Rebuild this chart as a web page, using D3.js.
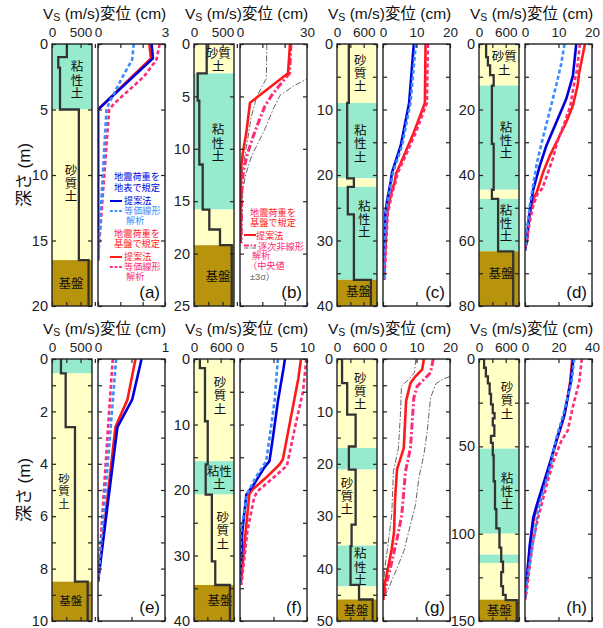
<!DOCTYPE html>
<html>
<head>
<meta charset="utf-8">
<script src="https://cdn.jsdelivr.net/npm/d3@7"></script>
<style>
  body { margin: 0; background: #fff; }
  svg text { font-family: "Liberation Sans", "Noto Sans CJK JP", Arial, sans-serif; }
</style>
</head>
<body>
<svg id="chart" width="603" height="628"></svg>
<script>
// ============================================================
//  Data
// ============================================================

const panelNames = ['(a)', '(b)', '(c)', '(d)', '(e)', '(f)', '(g)', '(h)'];
const depthMax   = [20, 25, 40, 80, 10, 40, 50, 150];
const depthMinor = [5, 5, 5, 10, 1, 5, 5, 25];
const depthMajor = [5, 5, 10, 20, 2, 10, 10, 50];
const vsMax      = [700, 700, 900, 900, 700, 900, 900, 900];
const vsMinor    = [250, 250, 300, 300, 250, 300, 300, 300];
const vsLabels   = [[0, 500], [0, 500], [0, 600], [0, 600], [0, 500], [0, 600], [0, 600], [0, 600]];
const dispMax    = [3, 30, 20, 20, 1, 10, 20, 40];
const dispMinor  = [1, 10, 10, 10, 0.5, 5, 10, 20];
const dispLabels = [[0, 3], [0, 30], [0, 10, 20], [0, 10, 20], [0, 1], [0, 5, 10], [0, 10, 20], [0, 20, 40]];

// soil layers: [top, bottom, kind]  s = 砂質土, c = 粘性土, b = 基盤
const layersA = [[0, 5, 'c'], [5, 16.5, 's'], [16.5, 20, 'b']];
const layersB = [[0, 2.8, 's'], [2.8, 15.8, 'c'], [15.8, 19.2, 's'], [19.2, 25, 'b']];
const layersC = [[0, 9, 's'], [9, 20.5, 'c'], [20.5, 21.8, 's'], [21.8, 36, 'c'], [36, 40, 'b']];
const layersD = [[0, 12.7, 's'], [12.7, 44.5, 'c'], [44.5, 47.3, 's'], [47.3, 63.3, 'c'], [63.3, 80, 'b']];
const layersE = [[0, 0.55, 'c'], [0.55, 8.5, 's'], [8.5, 10, 'b']];
const layersF = [[0, 15.6, 's'], [15.6, 20.7, 'c'], [20.7, 34.5, 's'], [34.5, 40, 'b']];
const layersG = [[0, 17, 's'], [17, 21.1, 'c'], [21.1, 35.6, 's'], [35.6, 43.4, 'c'], [43.4, 45.9, 's'], [45.9, 50, 'b']];
const layersH = [[0, 51.3, 's'], [51.3, 100, 'c'], [100, 112, 's'], [112, 116.8, 'c'], [116.8, 137.8, 's'], [137.8, 150, 'b']];

// Vs profiles: [depth where the value starts, Vs m/s]
const vsA = [[0, 260], [1, 110], [1.8, 140], [5, 470], [16.5, 640], [20, 640]];
const vsB = [[0, 222], [2.8, 65], [5.4, 93], [11.5, 152], [15.8, 268], [17.7, 455], [19.2, 660], [25, 660]];
const vsC = [[0, 266], [9, 229], [20.5, 380], [21.8, 243], [26, 380], [36, 763], [40, 763]];
const vsD = [[0, 160], [4, 200], [6.5, 250], [9.5, 330], [12.7, 290], [30.5, 330], [44.5, 290], [47.3, 430], [63.3, 770], [80, 770]];
const vsE = [[0, 157], [0.55, 239], [2.6, 402], [8.5, 624], [10, 624]];
const vsF = [[0, 132], [1.4, 247], [9.5, 309], [16.1, 263], [20.7, 402], [30.9, 478], [34.5, 808], [40, 808]];
const vsG = [[0, 114], [4.6, 229], [10.6, 419], [16.7, 267], [21.1, 419], [31.6, 328], [35.7, 305], [43.1, 496], [45.9, 801], [50, 801]];
const vsH = [[0, 115], [5, 155], [10, 200], [14, 240], [20, 270], [26, 310], [31, 350], [34, 310], [38, 345], [44, 270], [48, 310],
             [55, 330], [70, 360], [86, 390], [97, 460], [108, 500], [116, 540], [122, 500], [130, 540], [135, 600], [138, 850], [150, 850]];

// displacement profiles [depth m, cm]
// bp/rp: 提案法 (blue: 地表で規定, red: 基盤で規定), be/re: 等価線形解析, rm: 逐次非線形解析 中央値, lo/hi: ±3σ
const dispA = {
  rp: [[0, 2.3], [1.1, 2.37], [5, 0], [16.5, 0]],
  bp: [[0, 2.4], [1.1, 2.46], [5, 0], [16.5, 0]],
  re: [[0, 2.76], [1.2, 2.62], [2.5, 2.05], [3.5, 1.4], [4.5, 0.75], [5, 0.5], [16.5, 0]],
  be: [[0, 1.6], [1.2, 1.53], [2.5, 1.1], [3.5, 0.8], [4.5, 0.5], [5, 0.38], [16.5, 0]]
};
const dispB = {
  lo: [[0, 12], [3.3, 11.8], [5, 7.5], [7, 5], [9, 3.5], [10.5, 2.3], [12.5, 0.8], [19, 0.3]],
  hi: [[0, 34], [3, 33], [4, 24], [4.9, 17.9], [6.2, 14.9], [8.1, 11.2], [9.7, 7.5], [10.7, 5.2], [12.5, 2.5], [14, 1.2], [19, 0.6]],
  rm: [[0, 22.8], [2.8, 22.2], [4, 17.5], [4.9, 14.2], [5.9, 11.2], [7.5, 8.2], [8.75, 6], [10.7, 3], [12.2, 1.5], [14, 0.8], [19, 0.5]],
  rp: [[0, 22.4], [2.8, 21.5], [5.6, 4.5], [8.5, 2.8], [10.5, 1.2], [12, 0.4], [19, 0.3]]
};
const dispC = {
  rp: [[0, 12.7], [9, 12.5], [13.5, 9.2], [17, 6.3], [19.8, 3.9], [21, 3.5], [23, 2.3], [26, 1.2], [36, 0.3]],
  bp: [[0, 9.2], [9, 7.8], [15.5, 5.3], [19.6, 2.7], [21, 2.3], [24, 1.2], [26, 0.7], [36, 0.2]],
  re: [[0, 13.4], [9, 13.1], [13.5, 9.8], [17, 6.8], [19.8, 4.3], [21, 3.8], [23, 2.6], [26, 1.4], [36, 0.4]],
  be: [[0, 9.8], [9, 8.2], [15.5, 5.7], [19.6, 3.0], [21, 2.5], [24, 1.4], [26, 0.8], [36, 0.3]]
};
const dispD = {
  rp: [[0, 17.9], [2.5, 17.4], [8.6, 16.2], [12.7, 15.7], [18.8, 14.3], [23.9, 12.3], [30, 9.4], [34.1, 7.4], [39.2, 5.4], [45.3, 3.5], [47.3, 2.5], [52.4, 1.3], [59.7, 0.6], [63, 0]],
  bp: [[0, 15.3], [9.7, 14.3], [16.8, 12.3], [25, 8.9], [31, 6.4], [37.2, 4.4], [44.3, 2.5], [47.3, 2.0], [52.4, 1.3], [60, 0.5], [63, 0]],
  re: [[0, 16.4], [8, 15.5], [13, 14.5], [19, 13.5], [24, 11.8], [30, 9.6], [35, 8.3], [40, 6.6], [44, 5.2], [46, 3.6], [50, 2.3], [55, 1.3], [63, 0]],
  be: [[0, 11.8], [6.1, 10.8], [12.3, 9.4], [18.4, 7.9], [24.4, 6.4], [30.5, 4.9], [36.6, 3.5], [42.7, 2.5], [48.8, 1.5], [57, 0.5], [63, 0]]
};
const dispE = {
  rp: [[0, 0.56], [1.55, 0.44], [2.6, 0.26], [8.5, 0]],
  bp: [[0, 0.65], [1.55, 0.51], [2.6, 0.29], [8.5, 0]],
  re: [[0, 0.22], [2.6, 0.15], [8.5, 0]],
  be: [[0, 0.27], [2.6, 0.19], [8.5, 0]]
};
const dispF = {
  rp: [[0, 9.1], [3, 8.7], [15.3, 6.4], [16.1, 5.9], [18.1, 3.9], [19.9, 1.9], [20.6, 1.4], [26.3, 0.85], [34.5, 0.1]],
  bp: [[0, 6.7], [1.4, 6.5], [6.5, 5.65], [12.1, 4.9], [15.6, 4.4], [16.6, 3.6], [19.1, 2.1], [20.7, 0.95], [26.3, 0.35], [34.5, 0]],
  re: [[0, 9.9], [5, 9.4], [10, 8.3], [16.3, 7.0], [18.1, 5.0], [20.2, 2.6], [21.2, 2.1], [26.3, 1.1], [34.5, 0.2]],
  be: [[0, 5.65], [6.5, 5.15], [12.1, 4.4], [15.6, 3.9], [18, 2.4], [20.5, 1.1], [26.3, 0.15], [34.5, 0]]
};
const dispG = {
  lo: [[0, 9.8], [2.6, 9.4], [3.8, 7.8], [5.2, 5.5], [10.6, 5.2], [17, 4.6], [21.5, 3.1], [29.8, 2.6], [34.9, 1.6], [39.5, 0.6], [42.7, 0.2], [46, 0]],
  hi: [[0, 23], [3, 22], [3.7, 18.3], [4.7, 15.8], [7.4, 14.2], [13.8, 13.2], [18.3, 12.2], [22.7, 10.7], [27.8, 9.7], [32.9, 7.7], [36.7, 6.2], [39.9, 4.2], [43.1, 2.1], [46, 0]],
  rm: [[0, 15], [2.6, 14.2], [3.9, 12.2], [5.2, 10.2], [7.4, 9.2], [17, 8.2], [21.5, 6.7], [29.8, 5.6], [34.3, 4.2], [38.8, 2.6], [42.7, 1.1], [46, 0]],
  rp: [[0, 12.2], [2, 11.7], [3.3, 9.7], [4.6, 8.2], [8, 6.9], [17, 6.2], [21, 4.2], [26.7, 3.6], [33, 3.3], [36.3, 2.6], [39.5, 1.6], [42.7, 0.6], [46, 0]]
};
const dispH = {
  rp: [[0, 28.2], [13, 27], [32, 23.6], [38, 21.8], [47, 18.8], [60, 15], [72, 11.2], [84, 7.3], [91, 5.3], [106, 3.2], [122, 1.6], [137, 0]],
  bp: [[0, 28.8], [13, 27.3], [32, 23.5], [38, 21.5], [47, 18.6], [60, 14.7], [72, 10.8], [84, 6.9], [91, 4.9], [106, 2.9], [122, 1.4], [137, 0]],
  re: [[0, 33.9], [13, 32.4], [28, 28.4], [41, 25.5], [47, 21.6], [57, 17.6], [66, 14.7], [80, 10.8], [91, 7.8], [104, 4.9], [118, 2.9], [133, 1], [138, 0]],
  be: [[0, 29.4], [13, 27.8], [32, 22.8], [38, 21], [47, 18.2], [60, 15.5], [72, 12], [84, 8.5], [91, 7], [99, 5.9], [106, 4.5], [122, 2], [137, 0]]
};

// soil names: [text ('|' = new line), centre depth m, centre Vs m/s]
const labelsA = [['粘|性|土', 2.8, 437], ['砂|質|土', 10.7, 332], ['基盤', 18.3, 332]];
const labelsB = [['砂質|土', 1.57, 425], ['粘|性|土', 9.5, 420], ['基盤', 22.2, 420]];
const labelsC = [['砂|質|土', 4.6, 524], ['粘|性|土', 15.3, 524], ['粘|性|土', 26.9, 614], ['基盤', 37.9, 486]];
const labelsD = [['砂質|土', 6.1, 569], ['粘|性|土', 29.6, 608], ['粘|性|土', 55, 608], ['基盤', 70.2, 495]];
const labelsE = [['砂|質|土', 5.05, 210], ['基盤', 9.25, 327]];
const labelsF = [['砂|質|土', 5.7, 585], ['粘性|土', 18.2, 569], ['砂|質|土', 26.3, 646], ['基盤', 37, 585]];
const labelsG = [['砂|質|土', 6.3, 524], ['砂|質|土', 26.3, 225], ['粘|性|土', 39.8, 524], ['基盤', 48.1, 427]];
const labelsH = [['砂|質|土', 24.2, 630], ['粘|性|土', 76.1, 630], ['基盤', 144.4, 457]];

// legend texts
const legendSurface = ['地震荷重を', '地表で規定'];
const legendBase = ['地震荷重を', '基盤で規定'];
const legendProposed = '提案法';
const legendEqLinear = ['等価線形', '解析'];
const legendNonlinear = ['逐次非線形', '解析', '（中央値', '±3σ）'];

const panels = [
  { layers: layersA, vs: vsA, disp: dispA, labels: labelsA },
  { layers: layersB, vs: vsB, disp: dispB, labels: labelsB },
  { layers: layersC, vs: vsC, disp: dispC, labels: labelsC },
  { layers: layersD, vs: vsD, disp: dispD, labels: labelsD },
  { layers: layersE, vs: vsE, disp: dispE, labels: labelsE },
  { layers: layersF, vs: vsF, disp: dispF, labels: labelsF },
  { layers: layersG, vs: vsG, disp: dispG, labels: labelsG },
  { layers: layersH, vs: vsH, disp: dispH, labels: labelsH }
];

// ============================================================
//  Layout & styles
// ============================================================

const svg = d3.select('#chart');
const colX = [52, 194, 337, 479];
const rowY = [44, 359];
const plotH = 262, vsW = 40, gap = 6, dispW = 67;
const ink = '#222';

const soilFill = { s: '#ffffc6', c: '#97ebcd', b: '#b8940c' };
const BLUE = '#0000dd', LBLUE = '#3a8cff', RED = '#ff1a1a', PINK = '#ff2a78', GRAY = '#666';
const lineStyle = {
  lo: { stroke: GRAY, width: 1, dash: '6,2,1.5,2' },
  hi: { stroke: GRAY, width: 1, dash: '6,2,1.5,2' },
  rm: { stroke: PINK, width: 3, dash: '7,2.5,2,2.5' },
  rp: { stroke: RED, width: 2.6, dash: null },
  bp: { stroke: BLUE, width: 2.6, dash: null },
  re: { stroke: PINK, width: 2.6, dash: '4,2.5' },
  be: { stroke: LBLUE, width: 2.6, dash: '4,2.5' }
};
const drawOrder = ['lo', 'hi', 'rm', 'rp', 'bp', 're', 'be'];

const near = (v, step) => Math.abs(v / step - Math.round(v / step)) < 1e-6;
const ticksTo = (max, step) => d3.range(0, max + step / 2, step);

function styleAxis(sel, size) {
  sel.select('.domain').remove();
  sel.attr('color', ink).attr('font-family', null).attr('font-size', size);
  sel.selectAll('line').attr('stroke-width', 1.2);
}

// ============================================================
//  Panels
// ============================================================

panels.forEach((p, i) => {
  const col = i % 4, row = Math.floor(i / 4);
  const x0 = colX[col], y0 = rowY[row], dx0 = x0 + vsW + gap;

  const y = d3.scaleLinear().domain([0, depthMax[i]]).range([y0, y0 + plotH]);
  const xv = d3.scaleLinear().domain([0, vsMax[i]]).range([x0, x0 + vsW]);
  const xd = d3.scaleLinear().domain([0, dispMax[i]]).range([dx0, dx0 + dispW]);
  const g = svg.append('g');

  // --- Vs column: soil layers
  g.selectAll('rect.soil').data(p.layers).join('rect')
    .attr('class', 'soil')
    .attr('x', x0).attr('width', vsW)
    .attr('y', d => y(d[0])).attr('height', d => y(d[1]) - y(d[0]))
    .attr('fill', d => soilFill[d[2]]);

  // soil names
  p.labels.forEach(l => {
    const lines = l[0].split('|');
    const fs = i === 4 ? 11.5 : 12.5, lh = fs + 0.8;
    const cy = y(l[1]), cx = xv(l[2]);
    const t = g.append('text').attr('text-anchor', 'middle').attr('font-size', fs).attr('fill', '#111');
    lines.forEach((s, k) => {
      t.append('tspan').attr('x', cx)
        .attr('y', cy + (k - (lines.length - 1) / 2) * lh)
        .attr('dominant-baseline', 'central').text(s);
    });
  });

  // Vs step profile
  g.append('path').datum(p.vs)
    .attr('d', d3.line().curve(d3.curveStepBefore).x(d => xv(d[1])).y(d => y(d[0])))
    .attr('fill', 'none').attr('stroke', '#333').attr('stroke-width', 2.3);

  // --- displacement column
  const clipId = 'clip' + i;
  svg.append('clipPath').attr('id', clipId)
    .append('rect').attr('x', dx0).attr('y', y0).attr('width', dispW).attr('height', plotH);
  const lines = g.append('g').attr('clip-path', `url(#${clipId})`);
  const line = d3.line().x(d => xd(d[1])).y(d => y(d[0]));
  drawOrder.filter(k => p.disp[k]).forEach(k => {
    const st = lineStyle[k];
    lines.append('path').datum(p.disp[k])
      .attr('d', line)
      .attr('fill', 'none').attr('stroke', st.stroke).attr('stroke-width', st.width)
      .attr('stroke-dasharray', st.dash).attr('stroke-linejoin', 'round');
  });

  // --- axes (ticks point inward)
  const dTicks = ticksTo(depthMax[i], depthMinor[i]);
  g.append('g').attr('transform', `translate(${x0},0)`)
    .call(d3.axisLeft(y).tickValues(dTicks).tickSizeInner(-4).tickSizeOuter(0).tickPadding(4)
      .tickFormat(d => near(d, depthMajor[i]) ? d : ''))
    .call(s => styleAxis(s, 14.5));
  [x0 + vsW, dx0, dx0 + dispW].forEach((xx, k) => {
    const ax = k === 1 ? d3.axisLeft(y) : d3.axisRight(y);
    g.append('g').attr('transform', `translate(${xx},0)`)
      .call(ax.tickSizeInner(-4).tickValues(dTicks).tickSizeOuter(0).tickFormat(''))
      .call(s => styleAxis(s, 10));
  });

  const vTicks = ticksTo(vsMax[i], vsMinor[i]);
  const pTicks = ticksTo(dispMax[i], dispMinor[i]);
  [[xv, vTicks, vsLabels[i]], [xd, pTicks, dispLabels[i]]].forEach(([sc, tv, lab]) => {
    g.append('g').attr('transform', `translate(0,${y0})`)
      .call(d3.axisTop(sc).tickValues(tv).tickSizeInner(-4).tickSizeOuter(0).tickPadding(7)
        .tickFormat(d => lab.includes(d) ? d : ''))
      .call(s => styleAxis(s, 13.5));
    g.append('g').attr('transform', `translate(0,${y0 + plotH})`)
      .call(d3.axisBottom(sc).tickValues(tv).tickSizeInner(-4).tickSizeOuter(0).tickFormat(''))
      .call(s => styleAxis(s, 10));
  });

  // frames
  [[x0, vsW], [dx0, dispW]].forEach(([xx, w]) => {
    g.append('rect').attr('x', xx).attr('y', y0).attr('width', w).attr('height', plotH)
      .attr('fill', 'none').attr('stroke', ink).attr('stroke-width', 1.4);
  });

  // panel tag
  g.append('text').attr('x', dx0 + dispW - 5).attr('y', y0 + plotH - 8)
    .attr('text-anchor', 'end').attr('font-size', 17).attr('fill', '#111').text(panelNames[i]);

  // column header: Vs (m/s)変位 (cm)
  const h = g.append('text').attr('x', x0 - 9).attr('y', y0 - 25).attr('font-size', 15.5).attr('fill', '#111');
  h.append('tspan').text('V');
  h.append('tspan').attr('font-size', 10.5).attr('dy', 2).text('S');
  h.append('tspan').attr('dy', -2).text(' (m/s)変位 (cm)');
});

// depth axis titles
rowY.forEach(y0 => {
  svg.append('text')
    .attr('transform', `translate(30,${y0 + plotH / 2}) rotate(-90)`)
    .attr('text-anchor', 'middle').attr('font-size', 17).attr('fill', '#111')
    .text('深さ (m)');
});

// ============================================================
//  Legends in (a) and (b)
// ============================================================

function legendText(x, y, s, color, anchor) {
  svg.append('text').attr('x', x).attr('y', y).attr('font-size', 9.2)
    .attr('text-anchor', anchor || 'start').attr('fill', color).text(s);
}
function legendLine(x, y, st) {
  svg.append('line').attr('x1', x).attr('x2', x + 12).attr('y1', y).attr('y2', y)
    .attr('stroke', st.stroke).attr('stroke-width', Math.min(st.width, 2))
    .attr('stroke-dasharray', st.dash ? st.dash.split(',').map(v => v * 0.7).join(',') : null);
}

{ // (a)
  const L = colX[0] + vsW + gap, T = rowY[0];
  legendText(L + 39, T + 136, legendSurface[0], BLUE, 'middle');
  legendText(L + 39, T + 146.5, legendSurface[1], BLUE, 'middle');
  legendLine(L + 12, T + 157, lineStyle.bp);
  legendText(L + 26, T + 160.3, legendProposed, BLUE);
  legendLine(L + 12, T + 167, lineStyle.be);
  legendText(L + 26, T + 170.3, legendEqLinear[0], LBLUE);
  legendText(L + 28, T + 180.3, legendEqLinear[1], LBLUE);
  legendText(L + 39, T + 192.8, legendBase[0], RED, 'middle');
  legendText(L + 39, T + 203, legendBase[1], RED, 'middle');
  legendLine(L + 12, T + 213, lineStyle.rp);
  legendText(L + 26, T + 216.3, legendProposed, RED);
  legendLine(L + 12, T + 223, lineStyle.re);
  legendText(L + 26, T + 226.3, legendEqLinear[0], PINK);
  legendText(L + 28, T + 236.3, legendEqLinear[1], PINK);
}
{ // (b)
  const L = colX[1] + vsW + gap, T = rowY[0];
  legendText(L + 10, T + 172, legendBase[0], RED);
  legendText(L + 10, T + 181.5, legendBase[1], RED);
  legendLine(L + 4, T + 191, lineStyle.rp);
  legendText(L + 16, T + 194.5, legendProposed, RED);
  legendLine(L + 4, T + 201.5, lineStyle.rm);
  legendLine(L + 4, T + 204, lineStyle.lo);
  legendText(L + 18, T + 205.5, legendNonlinear[0], PINK);
  legendText(L + 12, T + 215, legendNonlinear[1], PINK);
  legendText(L + 8, T + 225, legendNonlinear[2], PINK);
  legendText(L + 10, T + 235.5, legendNonlinear[3], GRAY);
}
</script>
</body>
</html>
